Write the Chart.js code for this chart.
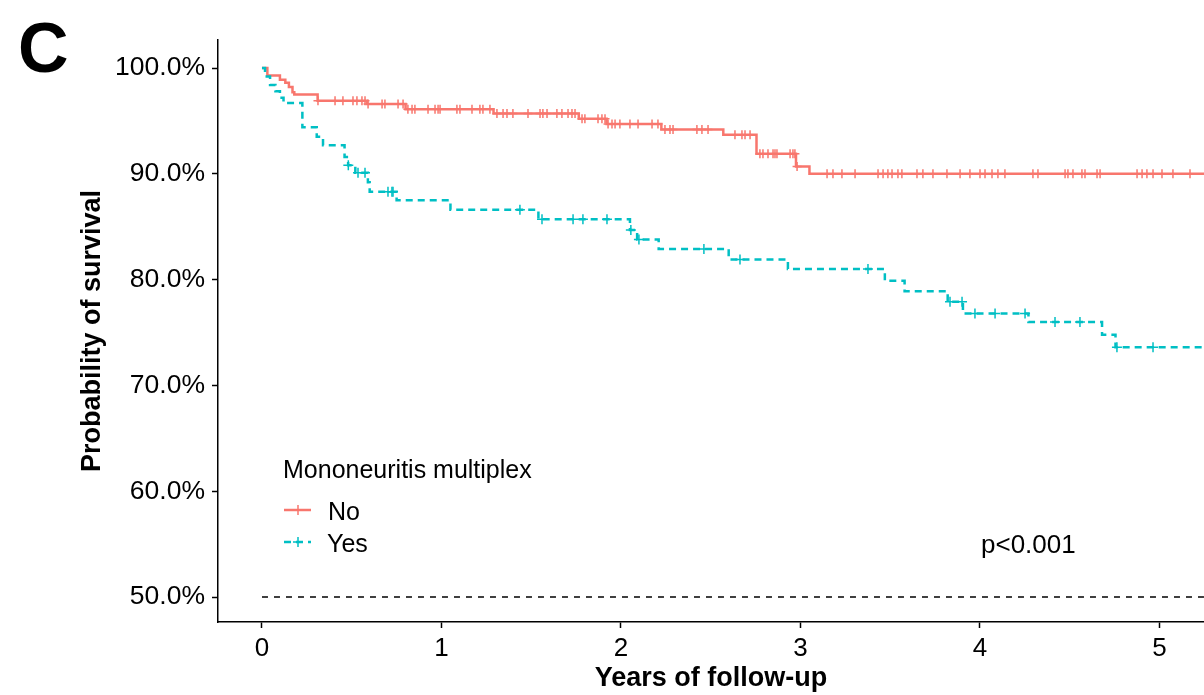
<!DOCTYPE html>
<html>
<head>
<meta charset="utf-8">
<script src="https://cdn.jsdelivr.net/npm/chart.js@4.4.1/dist/chart.umd.min.js"></script>
<style>
  html, body { margin: 0; padding: 0; background: #fff; }
  #wrap { width: 1204px; height: 695px; position: relative; }
</style>
</head>
<body>
<div id="wrap"><canvas id="kmChart"></canvas></div>
<script>
// tick labels
const xTicks = [0, 1, 2, 3, 4, 5];
const yTicks = [50, 60, 70, 80, 90, 100];

// Mononeuritis multiplex: No (event times in years, survival %)
const noTimes = [0, 0.03, 0.1, 0.13, 0.15, 0.17, 0.18, 0.31, 0.585, 0.8, 1.29, 1.765, 1.92, 2.225, 2.57, 2.755, 2.975, 3.05, 5.3];
const noSurv = [100, 99.3, 98.9, 98.6, 98.2, 97.7, 97.5, 96.9, 96.6, 96.1, 95.7, 95.2, 94.7, 94.2, 93.7, 91.9, 90.7, 90.0, 90.0];
const noCensor = [0.312, 0.407, 0.451, 0.507, 0.529, 0.557, 0.574, 0.591, 0.669, 0.685, 0.758, 0.786, 0.813, 0.836, 0.852, 0.925, 0.964, 0.981, 0.992,
  1.086, 1.103, 1.170, 1.214, 1.231, 1.270, 1.309, 1.343, 1.365, 1.398, 1.482, 1.549, 1.565, 1.588, 1.643, 1.671, 1.705, 1.727, 1.744,
  1.783, 1.799, 1.872, 1.894, 1.911, 1.928, 1.950, 1.967, 1.994, 2.050, 2.095, 2.173, 2.206, 2.245, 2.273, 2.290, 2.423, 2.451, 2.485,
  2.635, 2.674, 2.691, 2.719, 2.774, 2.791, 2.819, 2.847, 2.858, 2.869, 2.942, 2.958, 2.969, 2.981, 3.148, 3.181, 3.231, 3.304,
  3.432, 3.460, 3.487, 3.510, 3.543, 3.565, 3.649, 3.682, 3.738, 3.816, 3.889, 3.944, 4.0, 4.028, 4.067, 4.100, 4.139, 4.295, 4.323,
  4.474, 4.490, 4.518, 4.568, 4.585, 4.652, 4.669, 4.875, 4.903, 4.930, 4.964, 5.014, 5.075, 5.170];

// Mononeuritis multiplex: Yes
const yesTimes = [0, 0.017, 0.045, 0.075, 0.1, 0.12, 0.225, 0.305, 0.34, 0.46, 0.48, 0.52, 0.59, 0.6, 0.75, 1.05, 1.54, 2.05, 2.09, 2.21, 2.6, 2.93, 3.47, 3.58, 3.82, 3.905, 4.27, 4.68, 4.755, 5.3];
const yesSurv = [100, 99.2, 98.4, 97.8, 97.2, 96.7, 94.4, 93.5, 92.7, 91.6, 90.8, 90.1, 89.2, 88.3, 87.5, 86.6, 85.7, 84.7, 83.8, 82.9, 81.9, 81.0, 79.9, 78.9, 77.9, 76.8, 76.0, 74.8, 73.6, 73.6];
const yesCensor = [0.481, 0.535, 0.574, 0.702, 0.724, 0.73, 1.437, 1.56, 1.733, 1.788, 1.922, 2.055, 2.10, 2.462, 2.663, 3.376, 3.833, 3.9, 3.972, 4.084, 4.251, 4.418, 4.557, 4.763, 4.964];

const medianLine = 50;

const RED = '#F8766D';
const TEAL = '#00BFC4';
const FONT = '"Liberation Sans", Arial, sans-serif';

function survAt(times, surv, t) {
  let s = surv[0];
  for (let i = 0; i < times.length; i++) {
    if (times[i] <= t) s = surv[i];
  }
  return s;
}

const stepPts = (times, surv) => times.map((t, i) => ({x: t, y: surv[i]}));
const censorPts = (cens, times, surv) => cens.map(t => ({x: t, y: survAt(times, surv, t)}));

// legend, p value and panel letter
const annotations = {
  id: 'annotations',
  afterDraw(chart) {
    const ctx = chart.ctx;
    ctx.save();
    ctx.fillStyle = '#000';
    ctx.textBaseline = 'alphabetic';
    ctx.textAlign = 'left';
    ctx.font = 'bold 70px ' + FONT;
    ctx.fillText('C', 18, 72);

    ctx.font = '25px ' + FONT;
    ctx.fillText('Mononeuritis multiplex', 283, 478);
    ctx.fillText('No', 328, 520);
    ctx.fillText('Yes', 327, 552);
    ctx.font = '26px ' + FONT;
    ctx.fillText('p<0.001', 981, 553);

    // legend keys
    ctx.lineWidth = 2.5;
    ctx.strokeStyle = RED;
    ctx.beginPath(); ctx.moveTo(284, 510); ctx.lineTo(311, 510); ctx.stroke();
    ctx.lineWidth = 1.5;
    ctx.beginPath(); ctx.moveTo(298, 505); ctx.lineTo(298, 515); ctx.stroke();
    ctx.strokeStyle = TEAL;
    ctx.lineWidth = 2.5;
    ctx.setLineDash([7, 5]);
    ctx.beginPath(); ctx.moveTo(284, 542); ctx.lineTo(311, 542); ctx.stroke();
    ctx.setLineDash([]);
    ctx.lineWidth = 1.5;
    ctx.beginPath(); ctx.moveTo(298, 537); ctx.lineTo(298, 547); ctx.moveTo(293, 542); ctx.lineTo(303, 542); ctx.stroke();
    ctx.restore();
  }
};

new Chart(document.getElementById('kmChart').getContext('2d'), {
  type: 'line',
  data: {
    datasets: [
      {
        label: 'median',
        data: [{x: 0, y: medianLine}, {x: 5.3, y: medianLine}],
        borderColor: '#000',
        borderWidth: 1.5,
        borderDash: [6, 6],
        pointRadius: 0
      },
      {
        label: 'Yes',
        data: stepPts(yesTimes, yesSurv),
        stepped: 'before',
        borderColor: TEAL,
        borderWidth: 2.5,
        borderDash: [7, 5],
        pointRadius: 0
      },
      {
        label: 'Yes censored',
        type: 'scatter',
        data: censorPts(yesCensor, yesTimes, yesSurv),
        pointStyle: 'cross',
        pointRadius: 5,
        borderColor: TEAL,
        borderWidth: 1.5,
        showLine: false
      },
      {
        label: 'No',
        data: stepPts(noTimes, noSurv),
        stepped: 'before',
        borderColor: RED,
        borderWidth: 2.5,
        pointRadius: 0
      },
      {
        label: 'No censored',
        type: 'scatter',
        data: censorPts(noCensor, noTimes, noSurv),
        pointStyle: 'cross',
        pointRadius: 4.5,
        borderColor: RED,
        borderWidth: 1.5,
        showLine: false
      }
    ]
  },
  options: {
    responsive: true,
    maintainAspectRatio: false,
    animation: false,
    layout: { autoPadding: false, padding: { top: 40, right: 0, bottom: 0, left: 0 } },
    plugins: {
      legend: { display: false },
      tooltip: { enabled: false }
    },
    scales: {
      x: {
        type: 'linear',
        min: -0.245,
        max: 5.248,
        afterBuildTicks: s => { s.ticks = xTicks.map(v => ({value: v})); },
        afterFit: s => { s.height = 73; },
        ticks: {
          color: '#000',
          padding: 5,
          font: { family: FONT, size: 26 },
          callback: v => String(v)
        },
        grid: { drawOnChartArea: false, drawTicks: true, tickLength: 6, tickWidth: 1.5, tickColor: '#000' },
        border: { display: true, color: '#000', width: 1.5 },
        title: {
          display: true,
          text: 'Years of follow-up',
          color: '#000',
          padding: { top: 0, bottom: 0 },
          font: { family: FONT, size: 27, weight: 'bold', lineHeight: 1.2 }
        }
      },
      y: {
        type: 'linear',
        min: 47.64,
        max: 102.65,
        afterBuildTicks: s => { s.ticks = yTicks.map(v => ({value: v})); },
        afterFit: s => { s.width = 218; },
        ticks: {
          color: '#000',
          padding: 7,
          font: { family: FONT, size: 26.5 },
          callback: v => v.toFixed(1) + '%'
        },
        grid: { drawOnChartArea: false, drawTicks: true, tickLength: 6, tickWidth: 1.5, tickColor: '#000' },
        border: { display: true, color: '#000', width: 1.5 },
        title: {
          display: true,
          text: 'Probability of survival',
          color: '#000',
          padding: { top: 76, bottom: 0 },
          font: { family: FONT, size: 27, weight: 'bold', lineHeight: 1.2 }
        }
      }
    }
  },
  plugins: [annotations]
});
</script>
</body>
</html>
